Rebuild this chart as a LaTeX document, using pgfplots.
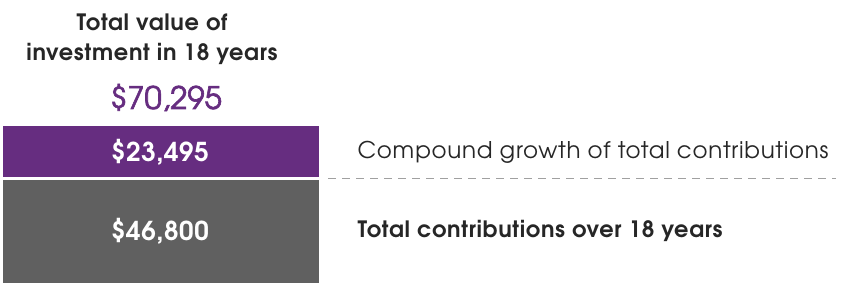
\documentclass[border=0pt]{standalone}
\usepackage{pgfplots}
\pgfplotsset{compat=1.18}
\usepackage{fontspec}
\setmainfont{texgyreadventor}[Extension=.otf, UprightFont=*-regular, BoldFont=*-bold, ItalicFont=*-italic, BoldItalicFont=*-bolditalic]
\definecolor{vpurple}{HTML}{662D80}
\definecolor{vgray}{HTML}{606060}
\definecolor{vtext}{HTML}{262626}
\definecolor{vdash}{HTML}{A0A0A0}
\begin{document}
\begin{tikzpicture}
\useasboundingbox (0,0) rectangle (844pt,286pt);
\begin{axis}[
  width=844pt, height=286pt, scale only axis,
  hide axis,
  xmin=0, xmax=844,
  ymin=-1343, ymax=126711,
  ybar stacked, bar width=316,
  clip=false,
]
\addplot[fill=vgray, draw=none] coordinates {(161,46800)};
\addplot[fill=vpurple, draw=none] coordinates {(161,23495)};
\end{axis}
% y (pt) = (value + 1343) / 128054 * 286
\draw[white, line width=3.5pt] (0pt,107.52pt) -- (325pt,107.52pt);
\draw[vdash, line width=1.6pt, dash pattern=on 8pt off 6pt] (328pt,107.52pt) -- (836pt,107.52pt);
\node[text=white, font=\bfseries\fontsize{26}{30}\selectfont\addfontfeature{LetterSpace=2}] at (160pt,133.76pt) {\$23,495};
\node[text=white, font=\bfseries\fontsize{26}{30}\selectfont\addfontfeature{LetterSpace=2}] at (160pt,55.26pt) {\$46,800};
\node[anchor=west, text=vtext, font=\fontsize{23}{27}\selectfont\addfontfeature{LetterSpace=3}] at (354pt,133.76pt) {Compound growth of total contributions};
\node[anchor=west, text=vtext, font=\bfseries\fontsize{22.5}{27}\selectfont\addfontfeature{LetterSpace=3}] at (354pt,55.26pt) {Total contributions over 18 years};
\node[anchor=base, text=vtext, font=\bfseries\fontsize{22.5}{27}\selectfont\addfontfeature{LetterSpace=3}] at (152pt,255pt) {Total value of};
\node[anchor=base, text=vtext, font=\bfseries\fontsize{22.5}{27}\selectfont\addfontfeature{LetterSpace=3}] at (152pt,225pt) {investment in 18 years};
\node[anchor=base, text=vpurple, font=\fontsize{31}{35}\selectfont\addfontfeature{FakeBold=2}] at (166pt,177pt) {\$70,295};
\end{tikzpicture}
\end{document}
